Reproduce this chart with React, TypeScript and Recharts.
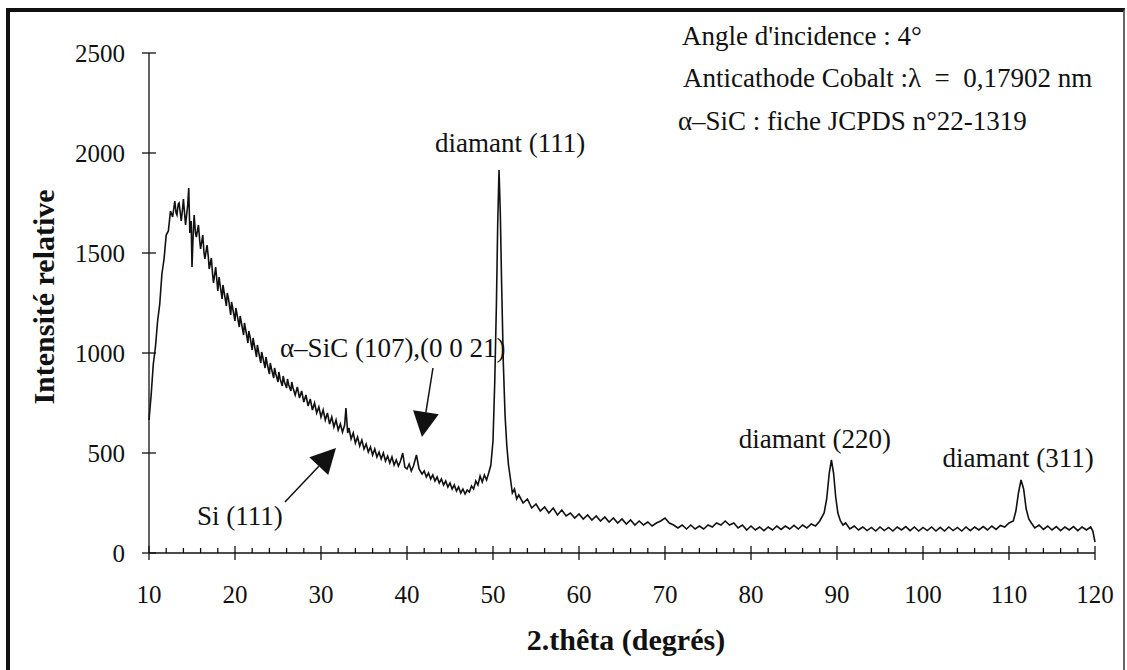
import { LineChart, Line, XAxis, YAxis, ReferenceDot, Label } from 'recharts';

// 2θ (degrés), intensité relative, segment by segment
const humpScan: [number, number][] = [
  [10, 665], [10.25, 790], [10.5, 945], [10.75, 1030], [11, 1160], [11.25, 1245], [11.5, 1395],
  [11.75, 1470], [12, 1590], [12.25, 1610], [12.5, 1710], [12.75, 1680], [13, 1760], [13.15, 1700],
  [13.25, 1690], [13.4, 1745], [13.5, 1750], [13.75, 1660], [13.9, 1720], [14, 1770], [14.25, 1640],
  [14.4, 1700], [14.5, 1740], [14.62, 1825], [14.75, 1600], [14.9, 1660], [15, 1430], [15.15, 1610],
  [15.25, 1690], [15.4, 1600], [15.5, 1580], [15.75, 1640], [15.9, 1560], [16, 1520], [16.25, 1590],
  [16.4, 1500], [16.5, 1470], [16.75, 1540], [16.9, 1480], [17, 1420], [17.25, 1475], [17.4, 1390],
  [17.5, 1350], [17.75, 1430], [17.9, 1360], [18, 1310], [18.15, 1380], [18.25, 1345], [18.5, 1270],
  [18.6, 1340], [18.75, 1300], [19, 1235], [19.1, 1300], [19.25, 1270], [19.5, 1190], [19.6, 1255],
  [19.75, 1220], [20, 1160], [20.1, 1225], [20.25, 1190], [20.5, 1130], [20.6, 1185], [20.75, 1150],
  [21, 1090], [21.1, 1150], [21.25, 1115], [21.5, 1050], [21.6, 1110], [21.75, 1080], [22, 1015],
  [22.1, 1075], [22.25, 1040], [22.5, 980], [22.6, 1040], [22.75, 1005], [23, 950], [23.1, 1005],
  [23.25, 975], [23.5, 925], [23.6, 980], [23.75, 945], [24, 895], [24.1, 950], [24.25, 920],
  [24.5, 875], [24.6, 925], [24.75, 895], [25, 855], [25.1, 905], [25.25, 870], [25.5, 835],
  [25.6, 885], [25.75, 855], [26, 825], [26.1, 870], [26.25, 840], [26.5, 810], [26.6, 855],
  [26.75, 825], [27, 790], [27.25, 830], [27.5, 775], [27.75, 810], [28, 755], [28.25, 790],
  [28.5, 735], [28.75, 770], [29, 715], [29.25, 750], [29.5, 700], [29.75, 730], [30, 680],
  [30.25, 715], [30.5, 665], [30.75, 700], [31, 645], [31.25, 680], [31.5, 630], [31.75, 665],
  [32, 615], [32.25, 645], [32.5, 605], [32.75, 640], [32.9, 725], [33.1, 600], [33.25, 625],
  [33.5, 570], [33.75, 600], [34, 550], [34.25, 580], [34.5, 535], [34.75, 565], [35, 520],
  [35.25, 545], [35.5, 505], [35.75, 530], [36, 490], [36.25, 520], [36.5, 480], [36.75, 505],
  [37, 470], [37.25, 500], [37.5, 460], [37.75, 485], [38, 450], [38.25, 480], [38.5, 440],
  [38.75, 465], [39, 435], [39.25, 460], [39.5, 500], [39.75, 430], [40, 420], [40.25, 445],
  [40.5, 410], [40.75, 435], [41.1, 490], [41.4, 420], [41.75, 395], [42, 410], [42.25, 380],
  [42.5, 400], [42.75, 370], [43, 390], [43.25, 360], [43.5, 380], [43.75, 350], [44, 370],
  [44.25, 340], [44.5, 360], [44.75, 330], [45, 350], [45.25, 320], [45.5, 340], [45.75, 310],
  [46, 330], [46.25, 300], [46.5, 320], [46.75, 295], [47, 315], [47.25, 305], [47.5, 335],
  [47.75, 320], [48, 360], [48.25, 340], [48.5, 385], [48.75, 355], [49, 390], [49.25, 365],
  [49.5, 400], [49.75, 440],
];

const diamond111Scan: [number, number][] = [
  [50, 560], [50.2, 850], [50.4, 1250], [50.55, 1650], [50.7, 1915], [50.85, 1700], [51, 1350],
  [51.2, 950], [51.4, 690], [51.6, 540], [51.8, 440], [52, 380], [52.25, 300], [52.5, 320], [52.75, 270],
];

const tailScanA: [number, number][] = [
  [53, 290], [53.5, 250], [54, 270], [54.5, 225], [55, 245], [55.5, 210], [56, 230], [56.5, 200],
  [57, 225], [57.5, 190], [58, 215], [58.5, 185], [59, 200], [59.5, 175], [60, 195], [60.5, 170],
  [61, 190], [61.5, 165], [62, 185], [62.5, 160], [63, 180], [63.5, 155], [64, 175], [64.5, 150],
  [65, 170], [65.5, 145], [66, 165], [66.5, 140], [67, 160], [67.5, 140], [68, 155], [68.5, 135],
  [69, 150], [69.5, 160], [70, 175], [70.5, 150], [71, 140], [71.5, 125], [72, 140], [72.5, 120],
  [73, 140], [73.5, 120], [74, 135], [74.5, 120], [75, 140], [75.5, 130], [76, 150], [76.5, 140],
  [77, 160], [77.5, 140], [78, 150], [78.5, 125], [79, 140], [79.5, 115], [80, 135], [80.5, 115],
  [81, 130], [81.5, 112], [82, 130], [82.5, 115], [83, 135], [83.5, 118], [84, 135], [84.5, 120],
  [85, 138], [85.5, 120], [86, 140], [86.5, 125], [87, 145], [87.5, 135], [88, 160], [88.5, 200],
];

const diamond220Scan: [number, number][] = [
  [88.8, 270], [89.1, 400], [89.35, 465], [89.6, 400], [89.85, 280], [90.1, 200], [90.4, 160],
  [90.7, 140], [91, 150],
];

const tailScanB: [number, number][] = [
  [91.5, 120], [92, 135], [92.5, 115], [93, 130], [93.5, 112], [94, 128], [94.5, 110], [95, 130],
  [95.5, 112], [96, 128], [96.5, 110], [97, 130], [97.5, 115], [98, 132], [98.5, 112], [99, 130],
  [99.5, 110], [100, 128], [100.5, 112], [101, 130], [101.5, 110], [102, 128], [102.5, 110],
  [103, 130], [103.5, 112], [104, 128], [104.5, 110], [105, 130], [105.5, 112], [106, 130],
  [106.5, 115], [107, 132], [107.5, 115], [108, 135], [108.5, 118], [109, 138], [109.5, 130],
  [110, 150], [110.5, 160],
];

const diamond311Scan: [number, number][] = [
  [110.8, 210], [111.1, 300], [111.4, 365], [111.7, 320], [112, 220], [112.3, 170], [112.6, 150],
];

const tailScanC: [number, number][] = [
  [113, 125], [113.5, 140], [114, 118], [114.5, 135], [115, 115], [115.5, 132], [116, 112],
  [116.5, 130], [117, 115], [117.5, 132], [118, 112], [118.5, 130], [119, 115], [119.5, 130],
  [119.75, 110], [120, 55],
];

const yTicks = [0, 500, 1000, 1500, 2000, 2500];
const xMajorTicks = [10, 20, 30, 40, 50, 60, 70, 80, 90, 100, 110, 120];

const scan = [
  ...humpScan, ...diamond111Scan, ...tailScanA, ...diamond220Scan,
  ...tailScanB, ...diamond311Scan, ...tailScanC,
].map(([theta, intensity]) => ({ theta, intensity }));

const xTicks: number[] = [];
for (let t = 10; t <= 120; t += 2) xTicks.push(t);

const FONT = 'Liberation Serif, DejaVu Serif, serif';
const INK = '#111';

function XTick({ x, y, payload }: any) {
  const v = payload.value;
  const major = xMajorTicks.includes(v);
  return (
    <g>
      <line x1={x} x2={x} y1={y - (major ? 7 : 5)} y2={major ? y + 7 : y} stroke={INK} strokeWidth={1.3} />
      {major && (
        <text x={x} y={y + 50} textAnchor="middle" fontSize={25} style={{ fontFamily: FONT }} fill={INK}>
          {v}
        </text>
      )}
    </g>
  );
}

function YTick({ x, y, payload }: any) {
  return (
    <g>
      <line x1={x - 7} x2={x + 7} y1={y} y2={y} stroke={INK} strokeWidth={1.3} />
      <text x={x - 24} y={y + 9} textAnchor="end" fontSize={25} style={{ fontFamily: FONT }} fill={INK}>
        {payload.value}
      </text>
    </g>
  );
}

const note = (text: string, anchor: 'start' | 'middle' = 'start') => (p: any) => (
  <text
    x={p.cx}
    y={p.cy}
    textAnchor={anchor}
    fontSize={27}
    fill={INK}
    style={{ whiteSpace: 'pre', fontFamily: FONT }}
  >
    {text}
  </text>
);

// arrow with its tip on the dot, tail offset in px
const arrow = (dx: number, dy: number) => (p: any) => {
  const len = Math.hypot(dx, dy);
  const ux = -dx / len;
  const uy = -dy / len;
  const bx = p.cx - ux * 25;
  const by = p.cy - uy * 25;
  const px = -uy * 13;
  const py = ux * 13;
  return (
    <g>
      <line x1={p.cx + dx} y1={p.cy + dy} x2={bx} y2={by} stroke={INK} strokeWidth={1.5} />
      <polygon points={`${p.cx},${p.cy} ${bx + px},${by + py} ${bx - px},${by - py}`} fill={INK} />
    </g>
  );
};

export default function App() {
  return (
    <div style={{ position: 'absolute', left: 0, top: 0, width: 1127, height: 670, background: '#fff', overflow: 'hidden' }}>
      <div
        style={{
          position: 'absolute',
          left: 6,
          top: 8,
          width: 1119,
          height: 700,
          boxSizing: 'border-box',
          borderLeft: `4px solid ${INK}`,
          borderTop: `4px solid ${INK}`,
          borderRight: '2px solid #666',
        }}
      />
      <div style={{ position: 'absolute', left: 0, top: 0 }}>
        <LineChart width={1127} height={670} data={scan} margin={{ top: 53, right: 32, bottom: 77, left: 0 }}>
          <XAxis
            dataKey="theta"
            type="number"
            domain={[10, 120]}
            ticks={xTicks}
            interval={0}
            tick={<XTick />}
            tickLine={false}
            tickSize={0}
            tickMargin={0}
            height={40}
            axisLine={{ stroke: INK, strokeWidth: 1.3 }}
          >
            <Label
              content={({ viewBox }: any) => (
                <text
                  x={viewBox.x + viewBox.width / 2 + 4}
                  y={viewBox.y + 97}
                  textAnchor="middle"
                  fontSize={30}
                  fontWeight="bold"
                  style={{ fontFamily: FONT }}
                  fill={INK}
                >
                  2.thêta (degrés)
                </text>
              )}
            />
          </XAxis>
          <YAxis
            type="number"
            domain={[0, 2500]}
            ticks={yTicks}
            interval={0}
            tick={<YTick />}
            tickLine={false}
            tickSize={0}
            tickMargin={0}
            width={149}
            axisLine={{ stroke: INK, strokeWidth: 1.3 }}
          >
            <Label
              content={({ viewBox }: any) => (
                <text
                  x={54}
                  y={viewBox.y + 244}
                  transform={`rotate(-90 54 ${viewBox.y + 244})`}
                  textAnchor="middle"
                  fontSize={30}
                  fontWeight="bold"
                  style={{ fontFamily: FONT }}
                  fill={INK}
                >
                  Intensité relative
                </text>
              )}
            />
          </YAxis>
          <Line
            dataKey="intensity"
            type="linear"
            stroke={INK}
            strokeWidth={1.6}
            dot={false}
            isAnimationActive={false}
          />
          <ReferenceDot x={71.98} y={2540} ifOverflow="visible" shape={note("Angle d'incidence : 4°")} />
          <ReferenceDot x={72.1} y={2330} ifOverflow="visible" shape={note('Anticathode Cobalt :λ  =  0,17902 nm')} />
          <ReferenceDot x={71.5} y={2115} ifOverflow="visible" shape={note('α–SiC : fiche JCPDS n°22-1319')} />
          <ReferenceDot x={51.98} y={2005} ifOverflow="visible" shape={note('diamant (111)', 'middle')} />
          <ReferenceDot x={25.23} y={980} ifOverflow="visible" shape={note('α–SiC (107),(0 0 21)')} />
          <ReferenceDot x={15.58} y={140} ifOverflow="visible" shape={note('Si (111)')} />
          <ReferenceDot x={87.44} y={525} ifOverflow="visible" shape={note('diamant (220)', 'middle')} />
          <ReferenceDot x={111.05} y={430} ifOverflow="visible" shape={note('diamant (311)', 'middle')} />
          <ReferenceDot x={41.74} y={580} ifOverflow="visible" shape={arrow(11, -69)} />
          <ReferenceDot x={31.74} y={525} ifOverflow="visible" shape={arrow(-51, 54)} />
        </LineChart>
      </div>
    </div>
  );
}
